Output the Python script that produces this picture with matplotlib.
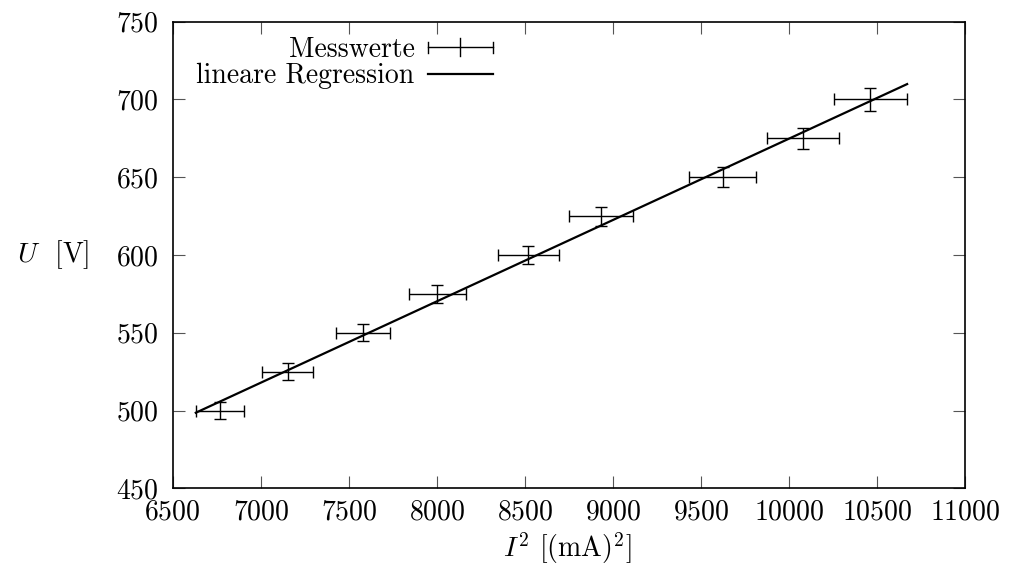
import numpy as np
import matplotlib
matplotlib.use("Agg")
import matplotlib.pyplot as plt
from matplotlib.lines import Line2D

# Data
I2 = [6769, 7153, 7583, 8003, 8520, 8932, 9625, 10080, 10462]       # (mA)^2
U = [500, 525, 550, 575, 600, 625, 650, 675, 700]                   # V
I2_err = [138, 144, 153, 161, 173, 180, 190, 203, 209]
U_err = [5.7, 5.6, 5.5, 5.7, 6.0, 6.2, 6.4, 6.75, 7.2]

x_ticks = [6500, 7000, 7500, 8000, 8500, 9000, 9500, 10000, 10500, 11000]
y_ticks = [450, 500, 550, 600, 650, 700, 750]

plt.rcParams['font.family'] = ['cmr10', 'DejaVu Serif']
plt.rcParams['mathtext.fontset'] = 'cm'
plt.rcParams['axes.unicode_minus'] = False
plt.rcParams['axes.formatter.use_mathtext'] = True


class GnuplotErrorbarHandler:
    """Legend sample like gnuplot: horizontal bar with end caps and a centre tick."""
    def legend_artist(self, legend, orig_handle, fontsize, handlebox):
        x0, y0 = handlebox.xdescent, handlebox.ydescent
        w, h = handlebox.width, handlebox.height
        tr = handlebox.get_transform()
        yc = y0 + h / 2.0
        cap, mid = 3.85, 6.4
        lw = 1.0
        arts = [
            Line2D([x0, x0 + w], [yc, yc], color='black', lw=lw, transform=tr),
            Line2D([x0, x0], [yc - cap, yc + cap], color='black', lw=lw, transform=tr),
            Line2D([x0 + w, x0 + w], [yc - cap, yc + cap], color='black', lw=lw, transform=tr),
            Line2D([x0 + w / 2, x0 + w / 2], [yc - mid, yc + mid], color='black', lw=lw, transform=tr),
        ]
        for a in arts:
            handlebox.add_artist(a)
        return arts[0]


fig = plt.figure(figsize=(10.10, 5.72), dpi=100)
ax = fig.add_axes([0.171, 0.1463, 0.7845, 0.8157])

x = np.array(I2, dtype=float)
y = np.array(U, dtype=float)
xe = np.array(I2_err, dtype=float)
ye = np.array(U_err, dtype=float)

slope, intercept = np.polyfit(x, y, 1)
xs = np.linspace((x - xe).min(), (x + xe).max(), 200)

eb = ax.errorbar(x, y, xerr=xe, yerr=ye, fmt='none', ecolor='black',
                 elinewidth=1.0, capsize=4.6, capthick=1.0, label='Messwerte')
ln, = ax.plot(xs, slope * xs + intercept, color='black', lw=1.6,
              label='lineare Regression')

ax.set_xlim(6500, 11000)
ax.set_ylim(450, 750)
ax.set_xticks(x_ticks)
ax.set_yticks(y_ticks)
ax.tick_params(direction='in', length=8.4, width=0.8, labelsize=20,
               top=True, right=True, color='#555555')
ax.tick_params(axis='x', pad=8)
ax.tick_params(axis='y', pad=10)
for s in ax.spines.values():
    s.set_linewidth(1.2)

ax.set_xlabel(r'$I^2$ [(mA)$^2$]', fontsize=20)
ax.xaxis.set_label_coords(0.498, -0.128)
ax.xaxis.label.set_va('center')
ax.set_ylabel(r'$U$  [V]', fontsize=20, rotation=0, ha='center', va='center')
ax.yaxis.set_label_coords(-0.151, 0.5)

leg = ax.legend([eb, ln], ['Messwerte', 'lineare Regression'],
                handler_map={type(eb): GnuplotErrorbarHandler()},
                loc='upper right', bbox_to_anchor=(0.404, 0.968),
                frameon=False, markerfirst=False, fontsize=20,
                handlelength=2.35, handletextpad=0.47, labelspacing=0.0,
                borderpad=0, borderaxespad=0)

fig.savefig('out.png', dpi=100)
